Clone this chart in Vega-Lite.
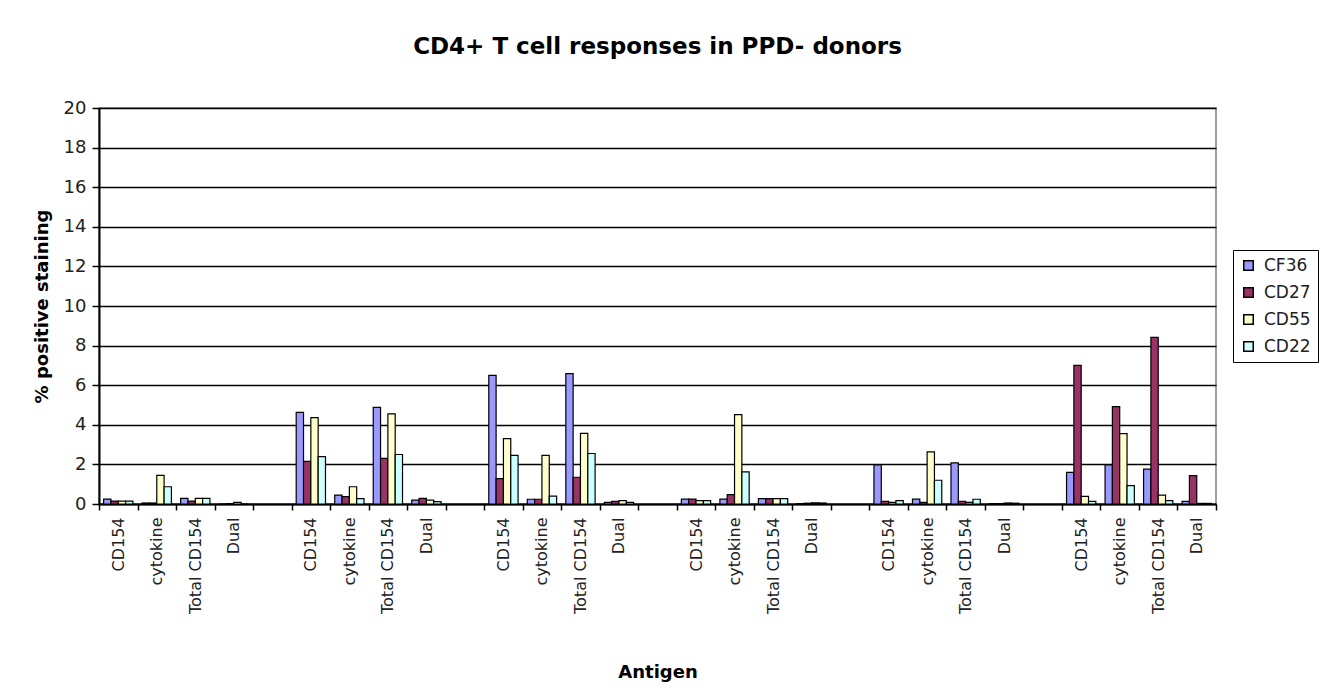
{
  "$schema": "https://vega.github.io/schema/vega-lite/v6.json",
  "width": 1117,
  "height": 396,
  "autosize": {"type": "none"},
  "padding": {"left": 99, "top": 108, "right": 109, "bottom": 184},
  "background": "white",
  "config": {
    "font": "DejaVu Sans",
    "view": {"stroke": "#808080", "strokeWidth": 1.5}
  },
  "title": {
    "text": "CD4+ T cell responses in PPD- donors",
    "font": "DejaVu Sans",
    "fontSize": 23,
    "fontWeight": "bold",
    "color": "#000000",
    "anchor": "middle",
    "offset": 40
  },
  "data": {
    "values": [
      {"slot": "1|CD154", "series": "CF36", "pct": 0.25},
      {"slot": "1|CD154", "series": "CD27", "pct": 0.15},
      {"slot": "1|CD154", "series": "CD55", "pct": 0.15},
      {"slot": "1|CD154", "series": "CD22", "pct": 0.15},
      {"slot": "1|cytokine", "series": "CF36", "pct": 0.05},
      {"slot": "1|cytokine", "series": "CD27", "pct": 0.05},
      {"slot": "1|cytokine", "series": "CD55", "pct": 1.45},
      {"slot": "1|cytokine", "series": "CD22", "pct": 0.87},
      {"slot": "1|Total CD154", "series": "CF36", "pct": 0.28},
      {"slot": "1|Total CD154", "series": "CD27", "pct": 0.15},
      {"slot": "1|Total CD154", "series": "CD55", "pct": 0.28},
      {"slot": "1|Total CD154", "series": "CD22", "pct": 0.28},
      {"slot": "1|Dual", "series": "CF36", "pct": 0},
      {"slot": "1|Dual", "series": "CD27", "pct": 0.02},
      {"slot": "1|Dual", "series": "CD55", "pct": 0.08},
      {"slot": "1|Dual", "series": "CD22", "pct": 0},
      {"slot": "2|CD154", "series": "CF36", "pct": 4.63},
      {"slot": "2|CD154", "series": "CD27", "pct": 2.15},
      {"slot": "2|CD154", "series": "CD55", "pct": 4.36},
      {"slot": "2|CD154", "series": "CD22", "pct": 2.39},
      {"slot": "2|cytokine", "series": "CF36", "pct": 0.45},
      {"slot": "2|cytokine", "series": "CD27", "pct": 0.37},
      {"slot": "2|cytokine", "series": "CD55", "pct": 0.87},
      {"slot": "2|cytokine", "series": "CD22", "pct": 0.27},
      {"slot": "2|Total CD154", "series": "CF36", "pct": 4.88},
      {"slot": "2|Total CD154", "series": "CD27", "pct": 2.3},
      {"slot": "2|Total CD154", "series": "CD55", "pct": 4.55},
      {"slot": "2|Total CD154", "series": "CD22", "pct": 2.5},
      {"slot": "2|Dual", "series": "CF36", "pct": 0.2},
      {"slot": "2|Dual", "series": "CD27", "pct": 0.28},
      {"slot": "2|Dual", "series": "CD55", "pct": 0.2},
      {"slot": "2|Dual", "series": "CD22", "pct": 0.12},
      {"slot": "3|CD154", "series": "CF36", "pct": 6.5},
      {"slot": "3|CD154", "series": "CD27", "pct": 1.28},
      {"slot": "3|CD154", "series": "CD55", "pct": 3.3},
      {"slot": "3|CD154", "series": "CD22", "pct": 2.46},
      {"slot": "3|cytokine", "series": "CF36", "pct": 0.24},
      {"slot": "3|cytokine", "series": "CD27", "pct": 0.24},
      {"slot": "3|cytokine", "series": "CD55", "pct": 2.46},
      {"slot": "3|cytokine", "series": "CD22", "pct": 0.4},
      {"slot": "3|Total CD154", "series": "CF36", "pct": 6.58},
      {"slot": "3|Total CD154", "series": "CD27", "pct": 1.35},
      {"slot": "3|Total CD154", "series": "CD55", "pct": 3.57},
      {"slot": "3|Total CD154", "series": "CD22", "pct": 2.55},
      {"slot": "3|Dual", "series": "CF36", "pct": 0.08},
      {"slot": "3|Dual", "series": "CD27", "pct": 0.13},
      {"slot": "3|Dual", "series": "CD55", "pct": 0.17},
      {"slot": "3|Dual", "series": "CD22", "pct": 0.08},
      {"slot": "4|CD154", "series": "CF36", "pct": 0.25},
      {"slot": "4|CD154", "series": "CD27", "pct": 0.25},
      {"slot": "4|CD154", "series": "CD55", "pct": 0.17},
      {"slot": "4|CD154", "series": "CD22", "pct": 0.17},
      {"slot": "4|cytokine", "series": "CF36", "pct": 0.25},
      {"slot": "4|cytokine", "series": "CD27", "pct": 0.47},
      {"slot": "4|cytokine", "series": "CD55", "pct": 4.51},
      {"slot": "4|cytokine", "series": "CD22", "pct": 1.62},
      {"slot": "4|Total CD154", "series": "CF36", "pct": 0.27},
      {"slot": "4|Total CD154", "series": "CD27", "pct": 0.27},
      {"slot": "4|Total CD154", "series": "CD55", "pct": 0.27},
      {"slot": "4|Total CD154", "series": "CD22", "pct": 0.27},
      {"slot": "4|Dual", "series": "CF36", "pct": 0.02},
      {"slot": "4|Dual", "series": "CD27", "pct": 0.04},
      {"slot": "4|Dual", "series": "CD55", "pct": 0.06},
      {"slot": "4|Dual", "series": "CD22", "pct": 0.05},
      {"slot": "5|CD154", "series": "CF36", "pct": 1.97},
      {"slot": "5|CD154", "series": "CD27", "pct": 0.13},
      {"slot": "5|CD154", "series": "CD55", "pct": 0.08},
      {"slot": "5|CD154", "series": "CD22", "pct": 0.17},
      {"slot": "5|cytokine", "series": "CF36", "pct": 0.25},
      {"slot": "5|cytokine", "series": "CD27", "pct": 0.08},
      {"slot": "5|cytokine", "series": "CD55", "pct": 2.63},
      {"slot": "5|cytokine", "series": "CD22", "pct": 1.2},
      {"slot": "5|Total CD154", "series": "CF36", "pct": 2.08},
      {"slot": "5|Total CD154", "series": "CD27", "pct": 0.13},
      {"slot": "5|Total CD154", "series": "CD55", "pct": 0.08},
      {"slot": "5|Total CD154", "series": "CD22", "pct": 0.24},
      {"slot": "5|Dual", "series": "CF36", "pct": 0.02},
      {"slot": "5|Dual", "series": "CD27", "pct": 0.02},
      {"slot": "5|Dual", "series": "CD55", "pct": 0.05},
      {"slot": "5|Dual", "series": "CD22", "pct": 0.04},
      {"slot": "6|CD154", "series": "CF36", "pct": 1.6},
      {"slot": "6|CD154", "series": "CD27", "pct": 7.0},
      {"slot": "6|CD154", "series": "CD55", "pct": 0.39},
      {"slot": "6|CD154", "series": "CD22", "pct": 0.13},
      {"slot": "6|cytokine", "series": "CF36", "pct": 1.97},
      {"slot": "6|cytokine", "series": "CD27", "pct": 4.92},
      {"slot": "6|cytokine", "series": "CD55", "pct": 3.55},
      {"slot": "6|cytokine", "series": "CD22", "pct": 0.93},
      {"slot": "6|Total CD154", "series": "CF36", "pct": 1.76},
      {"slot": "6|Total CD154", "series": "CD27", "pct": 8.42},
      {"slot": "6|Total CD154", "series": "CD55", "pct": 0.45},
      {"slot": "6|Total CD154", "series": "CD22", "pct": 0.17},
      {"slot": "6|Dual", "series": "CF36", "pct": 0.13},
      {"slot": "6|Dual", "series": "CD27", "pct": 1.43},
      {"slot": "6|Dual", "series": "CD55", "pct": 0.03},
      {"slot": "6|Dual", "series": "CD22", "pct": 0.03}
    ]
  },
  "mark": {"type": "bar", "stroke": "#000000", "strokeWidth": 1.2},
  "encoding": {
    "x": {
      "field": "slot",
      "type": "nominal",
      "scale": {
        "domain": [
          "1|CD154", "1|cytokine", "1|Total CD154", "1|Dual", "gap1",
          "2|CD154", "2|cytokine", "2|Total CD154", "2|Dual", "gap2",
          "3|CD154", "3|cytokine", "3|Total CD154", "3|Dual", "gap3",
          "4|CD154", "4|cytokine", "4|Total CD154", "4|Dual", "gap4",
          "5|CD154", "5|cytokine", "5|Total CD154", "5|Dual", "gap5",
          "6|CD154", "6|cytokine", "6|Total CD154", "6|Dual"
        ],
        "paddingInner": 0,
        "paddingOuter": 0
      },
      "axis": {
        "title": "Antigen",
        "titleFontSize": 18,
        "titleFontWeight": "bold",
        "titleColor": "#000000",
        "titlePadding": 50,
        "labelExpr": "isString(datum.value) && indexof(datum.value, '|') >= 0 ? slice(datum.value, indexof(datum.value, '|') + 1) : ''",
        "labelAngle": 270,
        "labelFontSize": 16,
        "labelColor": "#222222",
        "labelPadding": 7,
        "tickBand": "extent",
        "tickSize": 6,
        "tickColor": "#000000",
        "tickWidth": 1.5,
        "domainColor": "#000000",
        "domainWidth": 2,
        "grid": false
      }
    },
    "xOffset": {
      "field": "series",
      "type": "nominal",
      "scale": {"domain": ["CF36", "CD27", "CD55", "CD22"], "paddingInner": 0, "paddingOuter": 0.63}
    },
    "y": {
      "field": "pct",
      "type": "quantitative",
      "scale": {"domain": [0, 20], "nice": false},
      "axis": {
        "title": "% positive staining",
        "titleFontSize": 18,
        "titleFontWeight": "bold",
        "titleColor": "#000000",
        "titlePadding": 12,
        "values": [0, 2, 4, 6, 8, 10, 12, 14, 16, 18, 20],
        "labelFontSize": 18,
        "labelColor": "#222222",
        "labelPadding": 6,
        "tickSize": 7,
        "tickColor": "#000000",
        "tickWidth": 1.5,
        "domainColor": "#000000",
        "domainWidth": 2,
        "grid": true,
        "gridColor": "#000000",
        "gridWidth": 1.5
      }
    },
    "color": {
      "field": "series",
      "type": "nominal",
      "scale": {
        "domain": ["CF36", "CD27", "CD55", "CD22"],
        "range": ["#9999FF", "#993366", "#FFFFCC", "#CCFFFF"]
      },
      "legend": {
        "title": null,
        "orient": "none",
        "legendX": 1134,
        "legendY": 142,
        "strokeColor": "#000000",
        "fillColor": "white",
        "padding": 7,
        "symbolType": "square",
        "symbolSize": 90,
        "symbolStrokeColor": "#000000",
        "symbolStrokeWidth": 1.5,
        "symbolOpacity": 1,
        "labelFontSize": 17,
        "labelColor": "#222222",
        "labelOffset": 7,
        "rowPadding": 9
      }
    }
  }
}
